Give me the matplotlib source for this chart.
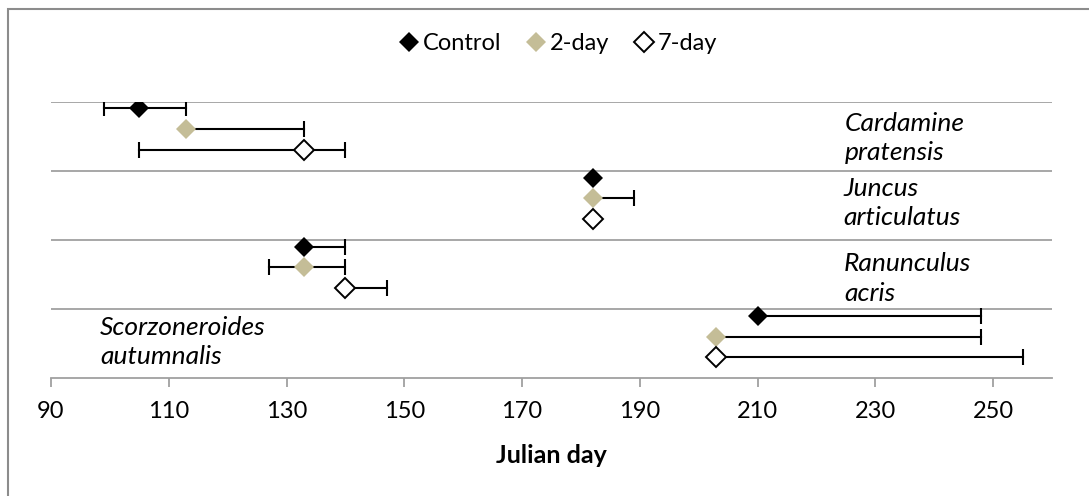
import matplotlib
matplotlib.use("Agg")
import matplotlib.pyplot as plt
from matplotlib.lines import Line2D
from matplotlib.patches import Rectangle

plt.rcParams["font.family"] = ["Lato", "DejaVu Sans"]

# ---------------------------------------------------------------------------
# Data (Julian day of flowering, mean with error bar ends)
# ---------------------------------------------------------------------------
species = ["Cardamine\npratensis", "Juncus\narticulatus",
           "Ranunculus\nacris", "Scorzoneroides\nautumnalis"]
treatments = ["Control", "2-day", "7-day"]

# per treatment: one value per species (top to bottom)
control_mean = [105, 182, 133, 210]
control_low  = [99, 182, 133, 210]
control_high = [113, 182, 140, 248]

twoday_mean = [113, 182, 133, 203]
twoday_low  = [113, 182, 127, 203]
twoday_high = [133, 189, 140, 248]

sevenday_mean = [133, 182, 140, 203]
sevenday_low  = [105, 182, 140, 203]
sevenday_high = [140, 182, 147, 255]

x_ticks = [90, 110, 130, 150, 170, 190, 210, 230, 250]

# ---------------------------------------------------------------------------
# Styling
# ---------------------------------------------------------------------------
TAN = "#c4bd97"
GRID = "#a0a0a0"
FS = 17
styles = {
    "Control": dict(mfc="black", mec="black", mew=0),
    "2-day":   dict(mfc=TAN, mec=TAN, mew=0),
    "7-day":   dict(mfc="white", mec="black", mew=1.4),
}
offsets = {"Control": 0.9, "2-day": 0.6, "7-day": 0.3}
series = {
    "Control": (control_mean, control_low, control_high),
    "2-day":   (twoday_mean, twoday_low, twoday_high),
    "7-day":   (sevenday_mean, sevenday_low, sevenday_high),
}

fig = plt.figure(figsize=(10.89, 4.96), dpi=100)
ax = fig.add_axes([51 / 1089, 1 - 378 / 496, (1052 - 51) / 1089, (378 - 101.5) / 496])

n = len(species)
for t in treatments:
    mean, low, high = series[t]
    ys = [n - 1 - i + offsets[t] for i in range(n)]
    # bars and caps only on the sides that have a spread
    for x, y, lo, hi in zip(mean, ys, low, high):
        for end in (lo, hi):
            if end != x:
                ax.plot([x, end], [y, y], color="black", lw=1.5, zorder=2)
                ax.plot([end], [y], marker="|", ms=12, mew=1.5, color="black", zorder=2)
    ax.plot(mean, ys, ls="none", marker="D", ms=10, zorder=3, **styles[t])

for y in range(1, n + 1):
    ax.axhline(y, color=GRID, lw=1.3, zorder=1)

ax.set_xlim(90, 260)
ax.set_ylim(0, n)
ax.set_xticks(x_ticks)
ax.set_yticks([])
for side in ["left", "right", "top"]:
    ax.spines[side].set_visible(False)
ax.spines["bottom"].set_color(GRID)
ax.spines["bottom"].set_linewidth(1.3)
ax.tick_params(axis="x", direction="out", length=6.5, width=1.3, color=GRID,
               labelsize=FS, pad=10)
ax.set_xlabel("Julian day", fontsize=18, fontweight="bold", labelpad=16)

# species labels
label_pos = [(224.8, 3.47), (224.6, 2.53), (224.7, 1.44), (98.3, 0.52)]
for name, (lx, ly) in zip(species, label_pos):
    ax.text(lx, ly, name, style="italic", fontsize=19, ha="left", va="center",
            linespacing=1.35)

handles = [Line2D([], [], ls="none", marker="D", ms=10, **styles[t]) for t in treatments]
fig.legend(handles, treatments, loc="center", bbox_to_anchor=(558 / 1089, 1 - 44 / 496),
           ncol=3, frameon=False, fontsize=FS, handlelength=0.9, handletextpad=0.15,
           columnspacing=1.0)

fig.patches.append(Rectangle((8 / 1089, -0.1), 1.2, 1 - 9 / 496 + 0.1,
                             transform=fig.transFigure, fill=False,
                             edgecolor="#8c8c8c", lw=1.5))

fig.savefig("out.png", dpi=100)
